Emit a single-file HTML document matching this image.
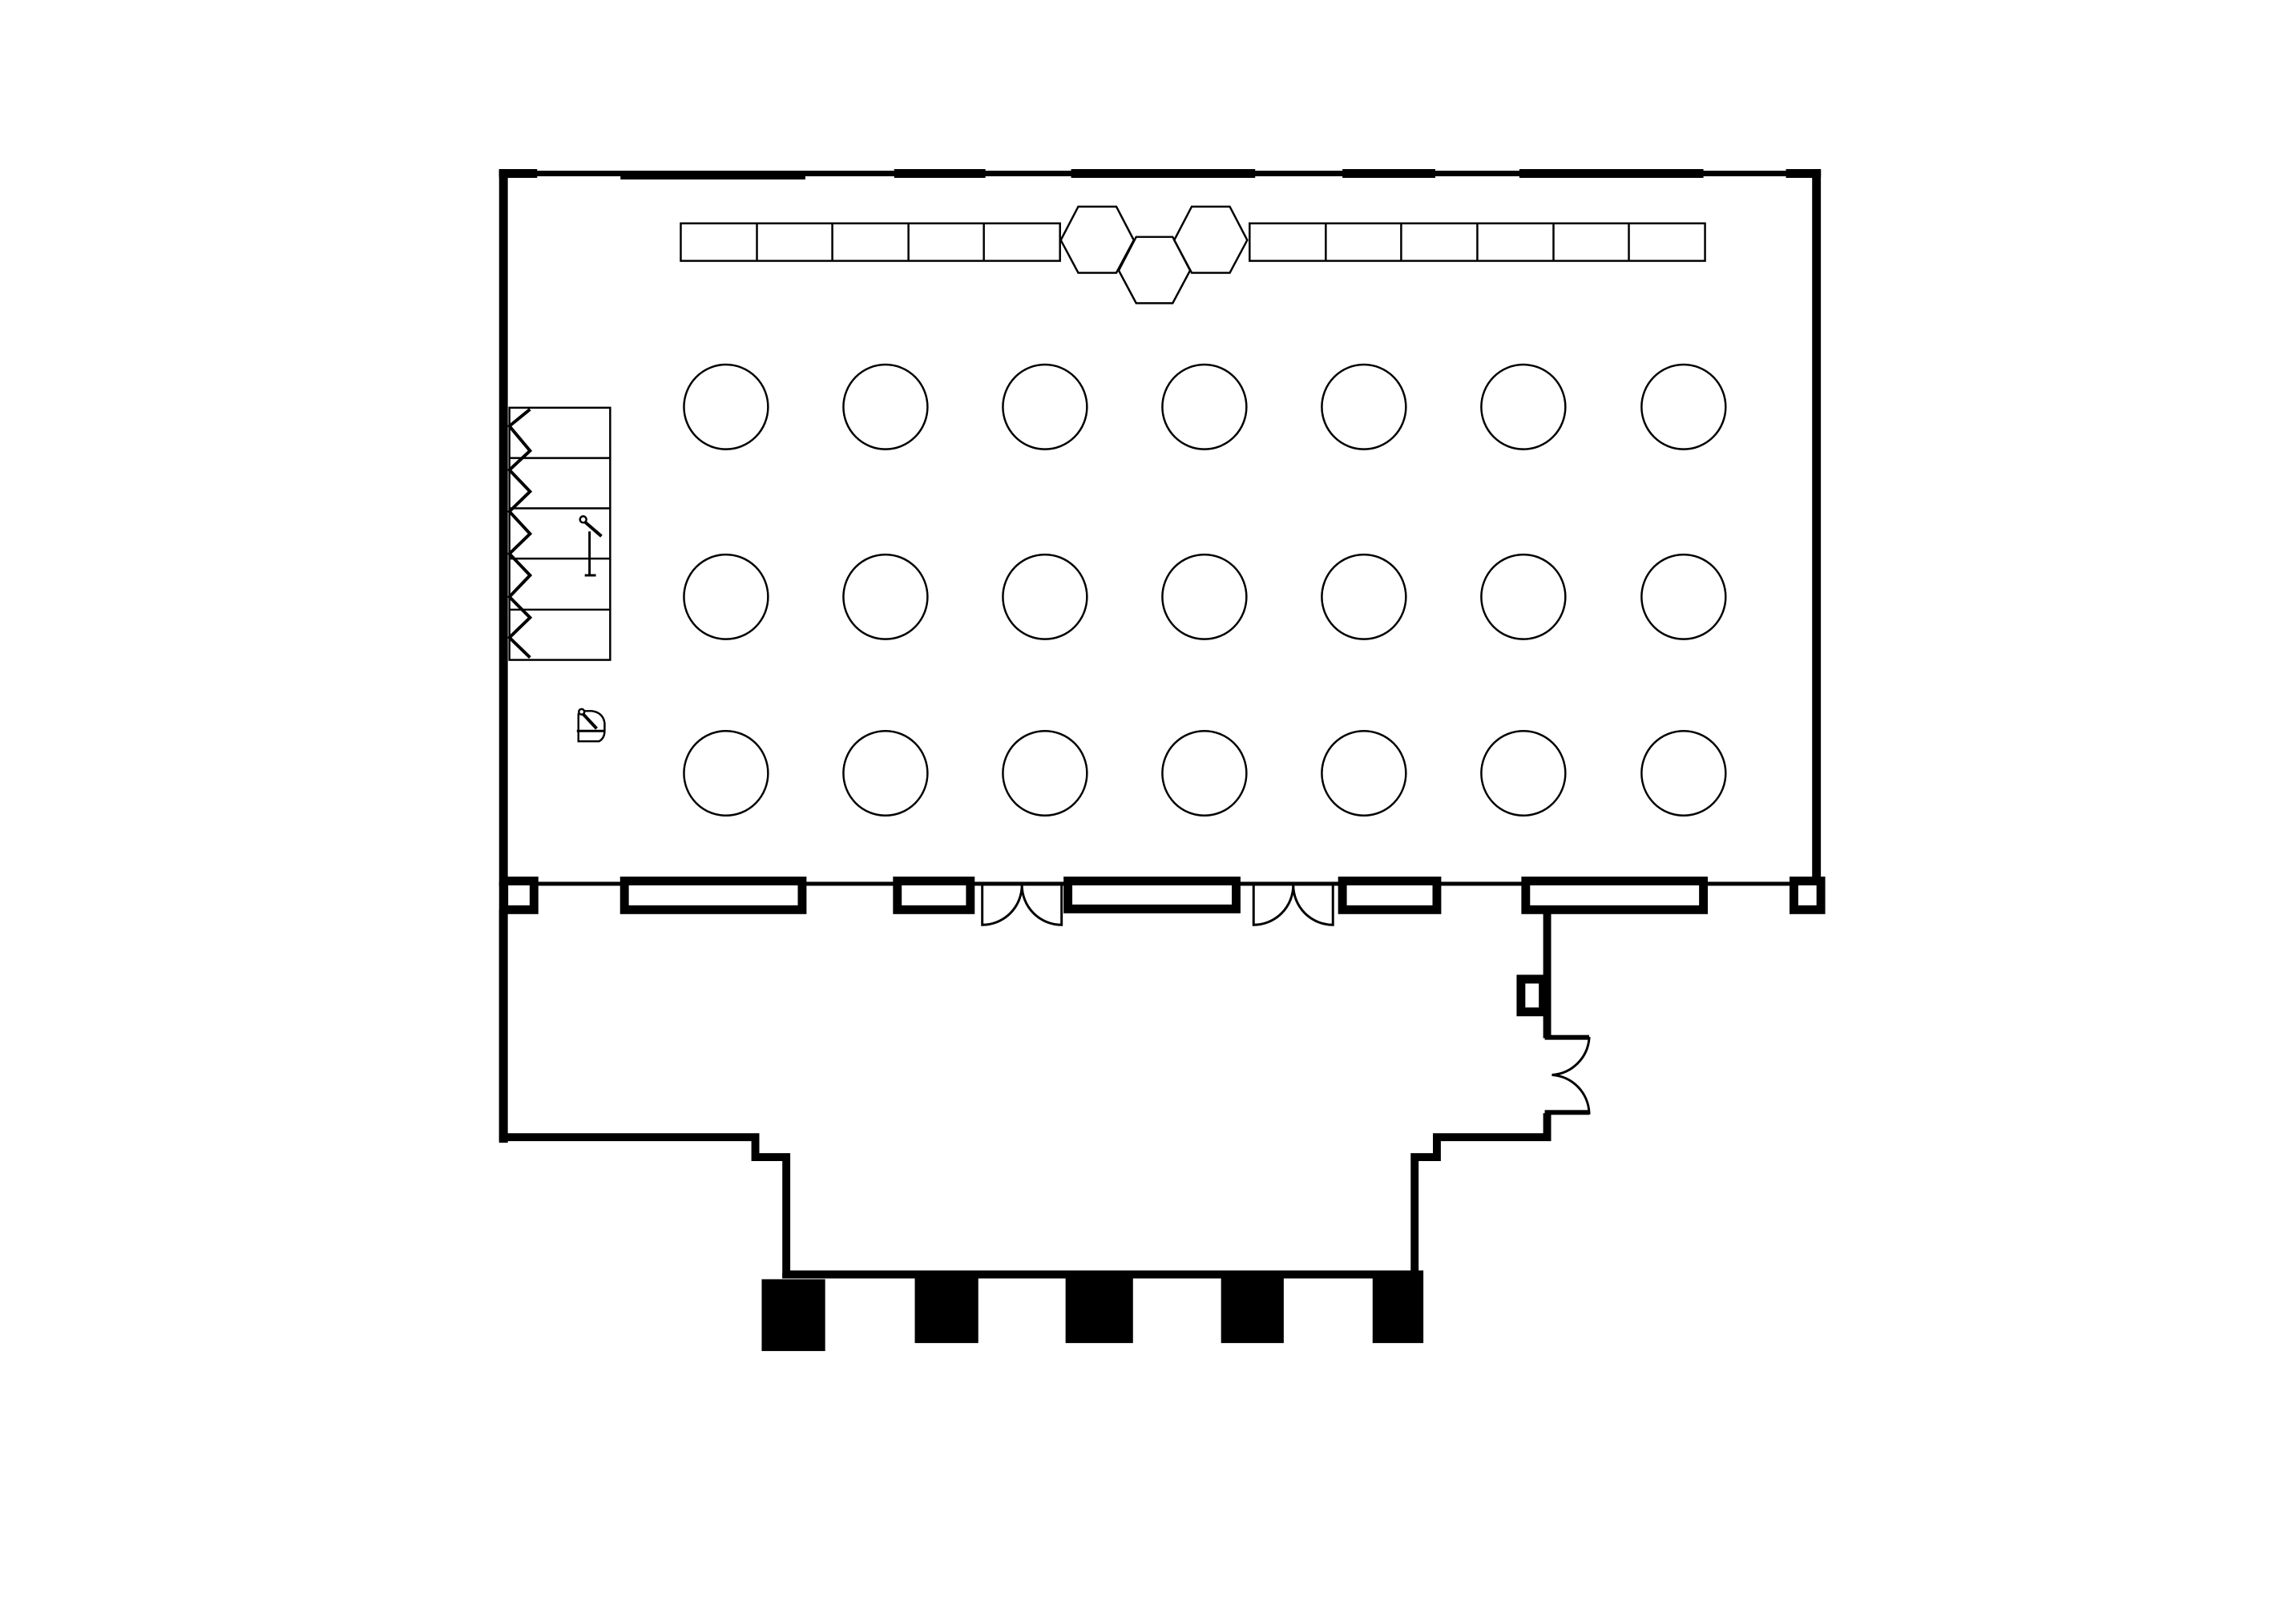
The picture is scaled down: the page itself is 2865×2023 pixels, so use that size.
<!DOCTYPE html>
<html><head><meta charset="utf-8"><style>html,body{margin:0;padding:0;background:#fff}svg{display:block}</style></head>
<body>
<svg width="2865" height="2023" viewBox="0 0 2865 2023" xmlns="http://www.w3.org/2000/svg">
<rect width="2865" height="2023" fill="#fff"/>
<g transform="translate(600,217) scale(0.990,0.996) translate(-600,-217)">
<g fill="#000">
<rect x="623" y="213" width="1666" height="7"/>
<rect x="623" y="211" width="48" height="11"/>
<rect x="776" y="213" width="233" height="11"/>
<rect x="1121" y="211" width="115" height="11"/>
<rect x="1344" y="211" width="232" height="11"/>
<rect x="1686" y="211" width="117" height="11"/>
<rect x="1909" y="211" width="232" height="11"/>
<rect x="2245" y="211" width="44" height="11"/>
<rect x="623" y="211" width="11" height="1220"/>
<rect x="2278" y="211" width="11" height="933"/>
<rect x="623" y="1104" width="1671" height="5"/>
</g>
<g fill="#fff" stroke="#000" stroke-width="11">
<rect x="629" y="1103" width="38" height="36"/>
<rect x="781" y="1103" width="224" height="36"/>
<rect x="1125" y="1103" width="92" height="36"/>
<rect x="1340" y="1103" width="212" height="35"/>
<rect x="1686" y="1103" width="119" height="36"/>
<rect x="1917" y="1103" width="224" height="36"/>
<rect x="2255" y="1103" width="34" height="36"/>
<rect x="1911" y="1226" width="28" height="41"/>
</g>
<g fill="none" stroke="#000" stroke-width="3">
<path d="M1232 1107 V1158 A50 50 0 0 0 1282 1108 A50 50 0 0 0 1332 1158 V1107"/>
<path d="M1574 1107 V1158 A50 50 0 0 0 1624 1108 A50 50 0 0 0 1674 1158 V1107"/>
<path d="M1944 1300 H1997 A50 50 0 0 1 1950 1346 A50 50 0 0 1 1997 1394 H1944"/>
</g>
<g fill="#000">
<rect x="1941" y="1296" width="56" height="6"/>
<rect x="1941" y="1390" width="56" height="6"/>
</g>
<path d="M628 1139 V1424 H946 V1449 H985 V1596 H1777 V1449 H1805 V1424 H1944 V1394 M1944 1300 V1144" fill="none" stroke="#000" stroke-width="10"/>
<rect x="980" y="1594" width="802" height="7" fill="#000"/>
<g fill="#000">
<rect x="954" y="1602" width="80" height="90"/>
<rect x="1147" y="1591" width="80" height="91"/>
<rect x="1337" y="1591" width="85" height="91"/>
<rect x="1533" y="1591" width="79" height="91"/>
<rect x="1724" y="1591" width="64" height="91"/>
</g>
<g fill="none" stroke="#000" stroke-width="2.5">
<rect x="852" y="279" width="478" height="47"/>
<path d="M948 279V326M1043 279V326M1139 279V326M1234 279V326"/>
<rect x="1569" y="279" width="574" height="47"/>
<path d="M1665 279V326M1760 279V326M1856 279V326M1952 279V326M2047 279V326"/>
<polygon points="1353,258 1401,258 1423,300 1401,341 1353,341 1331,300"/>
<polygon points="1426,296 1472,296 1494,338 1472,379 1426,379 1404,338"/>
<polygon points="1496,258 1544,258 1566,300 1544,341 1496,341 1474,300"/>
</g>
<g fill="none" stroke="#000" stroke-width="2.5">
<circle cx="909" cy="509" r="53"/><circle cx="1110" cy="509" r="53"/><circle cx="1311" cy="509" r="53"/><circle cx="1512" cy="509" r="53"/><circle cx="1713" cy="509" r="53"/><circle cx="1914" cy="509" r="53"/><circle cx="2116" cy="509" r="53"/>
<circle cx="909" cy="747" r="53"/><circle cx="1110" cy="747" r="53"/><circle cx="1311" cy="747" r="53"/><circle cx="1512" cy="747" r="53"/><circle cx="1713" cy="747" r="53"/><circle cx="1914" cy="747" r="53"/><circle cx="2116" cy="747" r="53"/>
<circle cx="909" cy="968" r="53"/><circle cx="1110" cy="968" r="53"/><circle cx="1311" cy="968" r="53"/><circle cx="1512" cy="968" r="53"/><circle cx="1713" cy="968" r="53"/><circle cx="1914" cy="968" r="53"/><circle cx="2116" cy="968" r="53"/>
</g>
<g fill="none" stroke="#000" stroke-width="2.5">
<rect x="636" y="510" width="127" height="316"/>
<path d="M636 573H763M636 636H763M636 699H763M636 763H763"/>
</g>
<polyline points="662,512 636,533 662,564 636,588 662,615 636,640 662,668 636,693 662,720 636,747 662,773 636,798 662,823" fill="none" stroke="#000" stroke-width="4"/>
<g stroke="#000" fill="none">
<circle cx="729" cy="650" r="4" stroke-width="2.5"/>
<line x1="731" y1="653" x2="752" y2="671" stroke-width="4"/>
<line x1="737" y1="665" x2="737" y2="720" stroke-width="3"/>
<line x1="731" y1="720" x2="745" y2="720" stroke-width="3"/>
</g>
<g stroke="#000" fill="none" stroke-width="2.5">
<path d="M723 893 V928 H749 Q756 924 756 915 V905 Q754 892 740 890 H730"/>
<line x1="721" y1="915" x2="756" y2="915" stroke-width="3"/>
<circle cx="727" cy="891" r="3.5"/>
<line x1="729" y1="894" x2="746" y2="912" stroke-width="4"/>
</g>
</g>
</svg>
</body></html>
